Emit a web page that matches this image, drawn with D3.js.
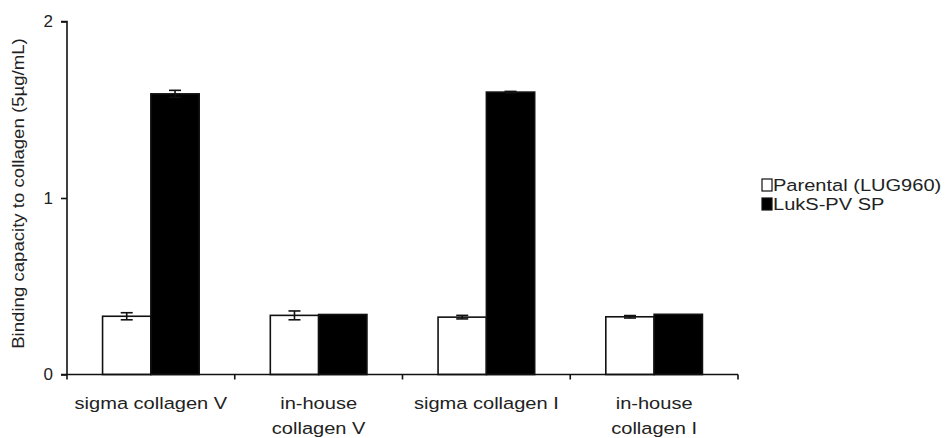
<!DOCTYPE html>
<html>
<head>
<meta charset="utf-8">
<script src="https://cdn.jsdelivr.net/npm/d3@7"></script>
<style>
  html, body { margin: 0; padding: 0; background: #fff; }
  svg { display: block; }
  text { font-family: "Liberation Sans", Arial, sans-serif; fill: #222; }
</style>
</head>
<body>
<svg id="chart" width="949" height="438"></svg>
<script>
// Collagen binding data: mean and SEM per strain
const categories = [["sigma collagen V"], ["in-house", "collagen V"], ["sigma collagen I"], ["in-house", "collagen I"]];
const seriesNames = ["Parental (LUG960)", "LukS-PV SP"];
const parentalValues = [0.33, 0.335, 0.325, 0.327];
const parentalErrors = [0.02, 0.025, 0.01, 0.007];
const luksValues = [1.59, 0.34, 1.60, 0.341];
const luksErrors = [0.02, 0, 0.004, 0];
const yTicks = [0, 1, 2];
const yLabel = "Binding capacity to collagen (5µg/mL)";

const svg = d3.select("#chart");
const plotLeft = 67, plotRight = 738, plotTop = 21.5, plotBottom = 374.5;
const wide = 1.18; // horizontal stretch of the lettering

const x0 = d3.scaleBand().domain(d3.range(categories.length)).range([plotLeft, plotRight]).padding(0);
const x1 = d3.scaleBand().domain(d3.range(seriesNames.length))
  .range([x0.bandwidth() * 0.212, x0.bandwidth() * 0.788]).padding(0);
const y = d3.scaleLinear().domain([0, 2]).range([plotBottom, plotTop]);

const fills = ["#fff", "#000"];
const values = [parentalValues, luksValues];
const errors = [parentalErrors, luksErrors];

const rows = [];
categories.forEach((c, i) => {
  seriesNames.forEach((s, j) => {
    rows.push({ cat: i, ser: j, v: values[j][i], e: errors[j][i] });
  });
});

// bars
svg.append("g").selectAll("rect").data(rows).join("rect")
  .attr("x", d => x0(d.cat) + x1(d.ser))
  .attr("y", d => y(d.v))
  .attr("width", x1.bandwidth())
  .attr("height", d => y(0) - y(d.v))
  .attr("fill", d => fills[d.ser])
  .attr("stroke", "#111")
  .attr("stroke-width", 1.6);

// error bars
const eg = svg.append("g").attr("stroke", "#111").attr("stroke-width", 1.6);
rows.filter(d => d.e > 0).forEach(d => {
  const cx = x0(d.cat) + x1(d.ser) + x1.bandwidth() / 2;
  eg.append("line").attr("x1", cx).attr("x2", cx).attr("y1", y(d.v - d.e)).attr("y2", y(d.v + d.e));
  [d.v - d.e, d.v + d.e].forEach(v => {
    eg.append("line").attr("x1", cx - 6).attr("x2", cx + 6).attr("y1", y(v)).attr("y2", y(v));
  });
});

// y axis
const yAxis = svg.append("g").attr("transform", `translate(${plotLeft},0)`)
  .call(d3.axisLeft(y).tickValues(yTicks).tickSize(6).tickPadding(8).tickFormat(d3.format("d")));
yAxis.select(".domain").attr("stroke", "#111").attr("stroke-width", 1.6).attr("d", `M-6,${plotTop}H0V${plotBottom}`);
yAxis.selectAll(".tick line").attr("stroke", "#111").attr("stroke-width", 1.6);
yAxis.selectAll(".tick text").style("font-size", "17px").attr("fill", "#222")
  .style("font-family", '"Liberation Sans", Arial, sans-serif');

// x axis with ticks at category boundaries
const xg = svg.append("g");
xg.append("line").attr("x1", plotLeft - 6).attr("x2", plotRight).attr("y1", plotBottom).attr("y2", plotBottom)
  .attr("stroke", "#111").attr("stroke-width", 1.6);
const bounds = d3.range(categories.length + 1).map(i => i < categories.length ? x0(i) : x0(i - 1) + x0.bandwidth());
xg.selectAll("line.t").data(bounds).join("line").attr("class", "t")
  .attr("x1", d => d).attr("x2", d => d).attr("y1", plotBottom).attr("y2", plotBottom + 5)
  .attr("stroke", "#111").attr("stroke-width", 1.6);

// category labels, stretched horizontally about their centre
categories.forEach((lines, i) => {
  const cx = x0(i) + x0.bandwidth() / 2;
  const t = svg.append("text").attr("text-anchor", "middle")
    .attr("transform", `translate(${cx},409) scale(${wide},1)`)
    .style("font-size", "17px");
  lines.forEach((ln, k) => t.append("tspan").attr("x", 0).attr("y", k * 25).text(ln));
});

// y-axis title
svg.append("text").attr("transform", `translate(23.5,193.5) rotate(-90) scale(1.095,1)`)
  .attr("text-anchor", "middle").style("font-size", "17px").text(yLabel);

// legend
const lg = svg.append("g").attr("transform", "translate(762,0)");
seriesNames.forEach((s, j) => {
  const base = 191 + j * 19;
  lg.append("rect").attr("x", 0).attr("y", base - 12).attr("width", 10).attr("height", 12)
    .attr("fill", fills[j]).attr("stroke", "#111").attr("stroke-width", 1.2);
  lg.append("text").attr("transform", `translate(11,${base}) scale(${wide},1)`)
    .style("font-size", "17px").text(s);
});
</script>
</body>
</html>
